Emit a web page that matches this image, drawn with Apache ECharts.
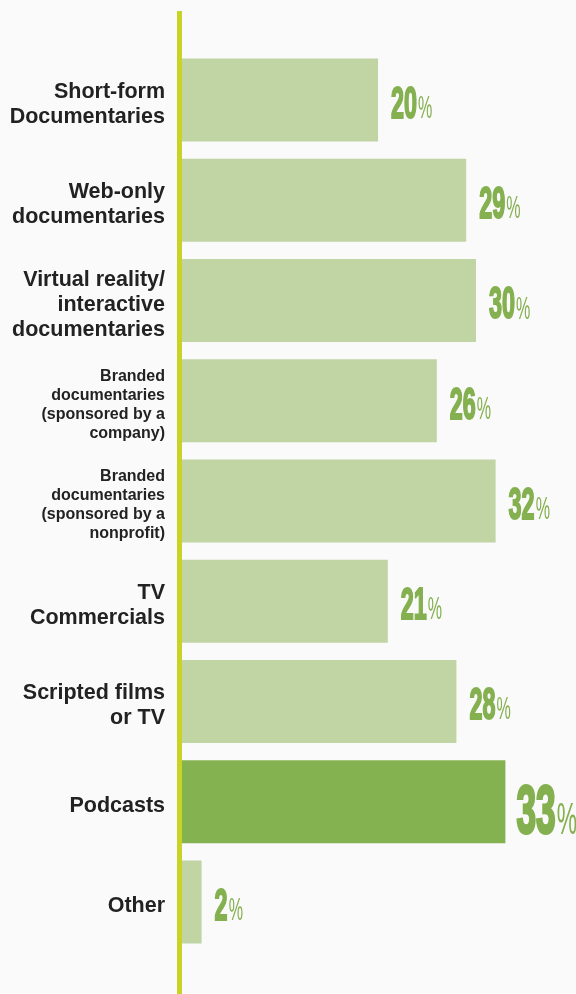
<!DOCTYPE html>
<html>
<head>
<meta charset="utf-8">
<script src="https://cdn.jsdelivr.net/npm/echarts@6/dist/echarts.min.js"></script>
<style>
  html, body { margin: 0; padding: 0; background: #fafafa; }
  #chart { width: 576px; height: 994px; }
</style>
</head>
<body>
<div id="chart"></div>
<script>
const categories = [
  'Short-form\nDocumentaries',
  'Web-only\ndocumentaries',
  'Virtual reality/\ninteractive\ndocumentaries',
  'Branded\ndocumentaries\n(sponsored by a\ncompany)',
  'Branded\ndocumentaries\n(sponsored by a\nnonprofit)',
  'TV\nCommercials',
  'Scripted films\nor TV',
  'Podcasts',
  'Other',
];
const values = [20, 29, 30, 26, 32, 21, 28, 33, 2];
const highlighted = 'Podcasts';

const LIGHT = '#c0d4a4';
const DARK = '#84b250';
const LABEL_GREEN = '#84b04f';
const NUM_FONT = '"Liberation Sans", Arial, sans-serif';

const chart = echarts.init(document.getElementById('chart'));

// value labels: condensed look by squeezing the text horizontally
const renderValueLabel = (params, api) => {
  const v = api.value(0);
  const idx = api.value(1);
  const p = api.coord([v, idx]);
  const big = categories[idx] === highlighted;
  const n = big ? 68 : 45;
  const pc = big ? 44 : 31;
  return {
    type: 'text',
    x: p[0] + (big ? 11 : 13),
    y: p[1] + (big ? 47 : 28),
    scaleX: 0.52,
    style: {
      text: `{n|${v}}{p|%}`,
      verticalAlign: 'bottom',
      align: 'left',
      fill: LABEL_GREEN,
      rich: {
        n: {
          fontFamily: NUM_FONT, fontWeight: 'bold', fontSize: n,
          lineHeight: n, fill: LABEL_GREEN, verticalAlign: 'bottom',
          stroke: LABEL_GREEN, lineWidth: big ? 3 : 2,
        },
        p: {
          fontFamily: NUM_FONT, fontWeight: 'normal', fontSize: pc,
          lineHeight: pc, fill: LABEL_GREEN, verticalAlign: 'bottom',
          padding: [0, 0, big ? 5 : 3, 2],
        },
      },
    },
  };
};

chart.setOption({
  backgroundColor: '#fafafa',
  animation: false,
  grid: { left: 182, right: 2, top: 50, bottom: 42 },
  xAxis: { type: 'value', min: 0, max: 40, show: false },
  yAxis: {
    type: 'category',
    data: categories,
    inverse: true,
    axisLine: { show: false },
    axisTick: { show: false },
    axisLabel: {
      margin: 17,
      align: 'right',
      padding: [9, 0, 0, 0],
      formatter: (val) => (val.indexOf('Branded') === 0 ? `{s|${val}}` : `{b|${val}}`),
      rich: {
        b: {
          fontFamily: '"Liberation Sans", Arial, sans-serif', fontWeight: 'bold',
          fontSize: 21.5, lineHeight: 25, color: '#222222', align: 'right',
        },
        s: {
          fontFamily: '"Liberation Sans", Arial, sans-serif', fontWeight: 'bold',
          fontSize: 16, lineHeight: 19, color: '#222222', align: 'right',
        },
      },
    },
  },
  graphic: [{
    type: 'rect',
    z: 0,
    shape: { x: 177, y: 11, width: 5, height: 983 },
    style: { fill: '#c9d326' },
  }],
  series: [
    {
      type: 'bar',
      barWidth: 83,
      data: values.map((v, i) => ({
        value: v,
        itemStyle: { color: categories[i] === highlighted ? DARK : LIGHT },
      })),
    },
    {
      type: 'custom',
      renderItem: renderValueLabel,
      encode: { x: 0, y: 1 },
      data: values.map((v, i) => [v, i]),
      z: 5,
    },
  ],
});
</script>
</body>
</html>
